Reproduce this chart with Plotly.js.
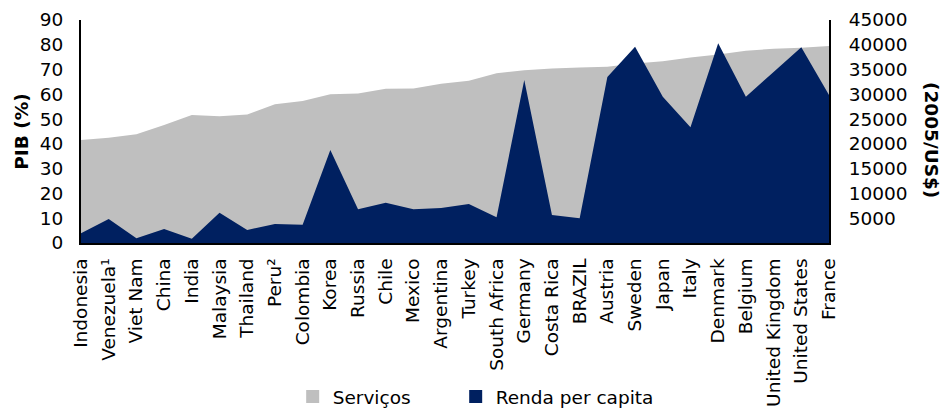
<!DOCTYPE html>
<html><head><meta charset="utf-8">
<script src="https://cdn.plot.ly/plotly-3.0.1.min.js"></script>
<style>body{margin:0;background:#fff}#chart{width:941px;height:411px}</style>
</head><body><div id="chart"></div>
<script>
const countries = ["Indonesia","Venezuela¹","Viet Nam","China","India","Malaysia","Thailand","Peru²","Colombia","Korea","Russia","Chile","Mexico","Argentina","Turkey","South Africa","Germany","Costa Rica","BRAZIL","Austria","Sweden","Japan","Italy","Denmark","Belgium","United Kingdom","United States","France"];
const servicos = [41.6,42.5,43.9,47.6,51.7,51.2,51.9,56.0,57.3,60.0,60.3,62.3,62.4,64.3,65.5,68.5,69.7,70.4,70.8,71.1,72.4,73.4,74.9,76.1,77.6,78.4,78.8,79.5];
const renda = [1950,4840,950,2830,870,6100,2620,3830,3700,18770,6800,8140,6800,7060,7870,5180,32890,5650,4980,33500,39610,29520,23350,40290,29520,34500,39490,29870];
const leftTicks = [0,10,20,30,40,50,60,70,80,90];
const rightTicks = [5000,10000,15000,20000,25000,30000,35000,40000,45000];
const serColor = "#BFBFBF", rendaColor = "#002060";
const F = "DejaVu Sans, sans-serif";
const FS = 18.5;

const traces = [
  {x: countries, y: servicos, type: "scatter", mode: "none", fill: "tozeroy", fillcolor: serColor, yaxis: "y", showlegend: false, hoverinfo: "skip"},
  {x: countries, y: renda, type: "scatter", mode: "none", fill: "tozeroy", fillcolor: rendaColor, yaxis: "y2", showlegend: false, hoverinfo: "skip"},
  {x: [null], y: [null], type: "scatter", mode: "markers", name: "Serviços", marker: {symbol: "square", size: 13, color: serColor}, showlegend: true},
  {x: [null], y: [null], type: "scatter", mode: "markers", name: "Renda per capita", marker: {symbol: "square", size: 13, color: rendaColor}, showlegend: true},
  {x: [null], y: [null], type: "scatter", mode: "markers", name: " ", marker: {symbol: "square", size: 1, color: "rgba(0,0,0,0)"}, showlegend: true}
];

const layout = {
  width: 941, height: 411,
  margin: {l: 81, r: 112, t: 20, b: 168},
  paper_bgcolor: "#fff", plot_bgcolor: "#fff",
  font: {family: F, size: FS, color: "#000"},
  showlegend: true,
  legend: {orientation: "h", x: 0.283, xanchor: "left", yref: "container", y: 0.034, yanchor: "middle", font: {size: FS},
           itemwidth: 30, entrywidth: 118, traceorder: "normal", bgcolor: "rgba(0,0,0,0)"},
  xaxis: {type: "category", range: [0, countries.length - 1], tickangle: -90, showgrid: false, zeroline: false,
          showline: true, linecolor: "#000", linewidth: 2, ticks: "", tickfont: {size: FS}, ticklabelstandoff: 6},
  yaxis: {range: [0, 90], tickvals: leftTicks, showgrid: false, zeroline: false, showline: true, linecolor: "#000", linewidth: 2,
          ticks: "", tickfont: {size: FS}, ticklabelstandoff: 12,
          title: {text: "<b>PIB (%)</b>", font: {size: FS}, standoff: 6}},
  yaxis2: {range: [0, 45000], tickvals: rightTicks, tickformat: "d", overlaying: "y", side: "right", showgrid: false, zeroline: false,
           showline: true, linecolor: "#000", linewidth: 2, ticks: "", tickfont: {size: FS}, ticklabelstandoff: 14},
  annotations: [{text: "<b>(2005/US$)</b>", xref: "paper", yref: "paper", x: 1.137, y: 0.46, textangle: 90, showarrow: false,
                 font: {size: FS}, xanchor: "center", yanchor: "middle"}]
};
Plotly.newPlot("chart", traces, layout, {displayModeBar: false, staticPlot: true});
</script></body></html>
